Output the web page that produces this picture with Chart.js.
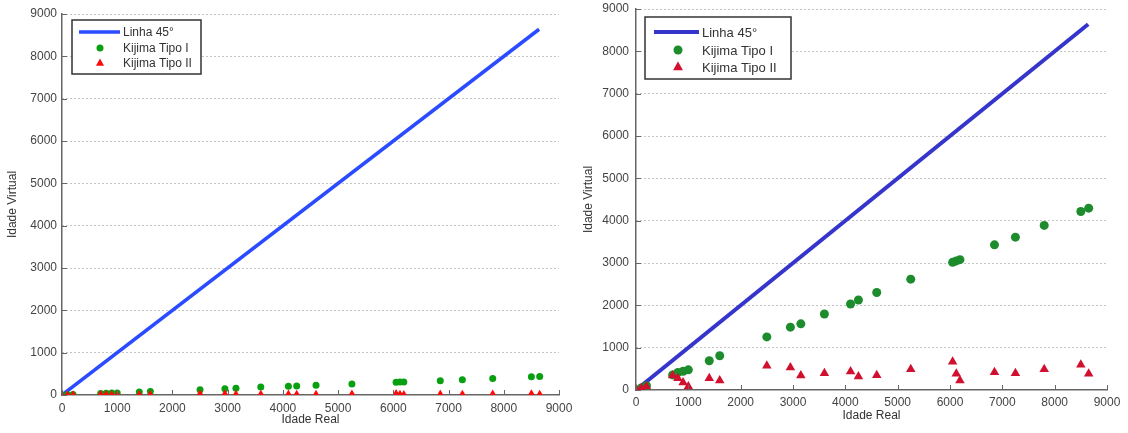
<!DOCTYPE html>
<html>
<head>
<meta charset="utf-8">
<script src="https://cdn.jsdelivr.net/npm/chart.js@4.4.1/dist/chart.umd.min.js"></script>
<style>
  body { margin: 0; background: #fff; width: 1128px; height: 433px; overflow: hidden; position: relative; }
  canvas { position: absolute; top: 0; }
  #esq { left: 0; }
  #dir { left: 580px; }
</style>
</head>
<body>
<canvas id="esq" width="580" height="433"></canvas>
<canvas id="dir" width="548" height="433"></canvas>
<script>
// idade real (eixo x), igual nos dois graficos
var idadeReal = [0, 100, 200, 700, 800, 900, 1000, 1400, 1600, 2500, 2950, 3150, 3600, 4100, 4250, 4600, 5250, 6050, 6120, 6190, 6850, 7250, 7800, 8500, 8650];

// grafico da esquerda
var tipoI_esq  = [0, 5, 10, 35, 40, 45, 50, 70, 80, 122, 148, 158, 187, 205, 213, 228, 262, 303, 306, 310, 334, 362, 392, 432, 435];
var tipoII_esq = [1, 2, 4, 17, 14, 9, 4, 14, 11, 29, 27, 17, 20, 22, 16, 17, 25, 33, 19, 11, 21, 20, 25, 30, 19];

// grafico da direita
var tipoI_dir  = [0, 50, 100, 357, 413, 444, 476, 690, 810, 1254, 1484, 1563, 1794, 2032, 2127, 2302, 2619, 3016, 3050, 3079, 3429, 3611, 3888, 4216, 4296];
var tipoII_dir = [16, 40, 80, 341, 278, 175, 80, 278, 222, 571, 532, 341, 397, 437, 317, 349, 492, 667, 381, 222, 420, 397, 492, 595, 381];

// linha 45 graus
var linhaX = [0, 8640];

var ticksEixo = [0, 1000, 2000, 3000, 4000, 5000, 6000, 7000, 8000, 9000];
var rotulos = ['Linha 45°', 'Kijima Tipo I', 'Kijima Tipo II'];

function pontos(xs, ys) {
  var out = [];
  for (var i = 0; i < xs.length; i++) out.push({x: xs[i], y: ys[i]});
  return out;
}

// ticks para dentro (estilo matlab)
var ticksDentro = {
  id: 'ticksDentro',
  afterDraw: function (chart) {
    var ctx = chart.ctx, xs = chart.scales.x, ys = chart.scales.y, a = chart.chartArea;
    ctx.save();
    ctx.strokeStyle = '#666';
    ctx.lineWidth = 1;
    ctx.beginPath();
    ticksEixo.forEach(function (v) {
      var px = Math.round(xs.getPixelForValue(v)) + 0.5;
      ctx.moveTo(px, a.bottom); ctx.lineTo(px, a.bottom - 5);
      var py = Math.round(ys.getPixelForValue(v)) + 0.5;
      ctx.moveTo(a.left, py); ctx.lineTo(a.left + 5, py);
    });
    ctx.stroke();
    ctx.restore();
  }
};

// legenda em caixa dentro do grafico
var legendaCaixa = {
  id: 'legendaCaixa',
  afterDraw: function (chart, args, o) {
    var ctx = chart.ctx;
    ctx.save();
    ctx.fillStyle = '#fff';
    ctx.fillRect(o.x, o.y, o.w, o.h);
    ctx.strokeStyle = '#333';
    ctx.lineWidth = 1.5;
    ctx.strokeRect(o.x, o.y, o.w, o.h);
    ctx.font = o.fonte + 'px "Liberation Sans", Arial, sans-serif';
    ctx.textBaseline = 'middle';
    ctx.fillStyle = '#333';
    chart.data.datasets.forEach(function (ds, i) {
      var y = o.linhas[i];
      if (i === 0) {
        ctx.strokeStyle = ds.borderColor;
        ctx.lineWidth = ds.borderWidth;
        ctx.beginPath(); ctx.moveTo(o.l0, y); ctx.lineTo(o.l1, y); ctx.stroke();
      } else {
        ctx.fillStyle = ds.pointBackgroundColor;
        ctx.beginPath();
        if (ds.pointStyle === 'circle') {
          ctx.arc(o.mx, y, ds.pointRadius, 0, Math.PI * 2);
        } else {
          var r = ds.pointRadius;
          ctx.moveTo(o.mx, y - r);
          ctx.lineTo(o.mx + r * 0.9, y + r * 0.6);
          ctx.lineTo(o.mx - r * 0.9, y + r * 0.6);
          ctx.closePath();
        }
        ctx.fill();
      }
      ctx.fillStyle = '#333';
      ctx.fillText(ds.label, o.tx, y + 1);
    });
    ctx.restore();
  }
};

function grafico(id, g) {
  var fonte = {family: '"Liberation Sans", Arial, sans-serif', size: g.fonte};
  new Chart(document.getElementById(id), {
    type: 'scatter',
    data: {
      datasets: [{
        type: 'line',
        label: rotulos[0],
        data: pontos(linhaX, linhaX),
        borderColor: g.azul,
        borderWidth: g.larguraLinha,
        pointRadius: 0,
        order: 3
      }, {
        label: rotulos[1],
        data: pontos(idadeReal, g.tipoI),
        pointStyle: 'circle',
        pointRadius: g.raio,
        pointBackgroundColor: g.verde,
        pointBorderWidth: 0,
        order: 2
      }, {
        label: rotulos[2],
        data: pontos(idadeReal, g.tipoII),
        pointStyle: 'triangle',
        pointRadius: g.raioTri,
        pointBackgroundColor: g.vermelho,
        pointBorderWidth: 0,
        order: 1
      }]
    },
    options: {
      responsive: false,
      animation: false,
      events: [],
      layout: {padding: {top: g.topo, right: 21, left: 0, bottom: 0}},
      plugins: {
        legend: {display: false},
        tooltip: {enabled: false},
        legendaCaixa: g.legenda
      },
      scales: {
        x: {
          type: 'linear', min: 0, max: 9000,
          afterBuildTicks: function (s) { s.ticks = ticksEixo.map(function (v) { return {value: v}; }); },
          afterFit: function (s) { s.height = g.alturaX; s.paddingLeft = 0; s.paddingRight = 0; },
          grid: {display: false, drawTicks: false},
          border: {color: '#666', width: 1.5},
          ticks: {color: '#444', font: fonte, padding: g.padX, maxRotation: 0, autoSkip: false,
                  callback: function (v) { return String(v); }},
          title: {display: true, text: 'Idade Real', color: '#333', font: fonte, padding: {top: 0, bottom: g.titX}}
        },
        y: {
          type: 'linear', min: 0, max: 9000,
          afterBuildTicks: function (s) { s.ticks = ticksEixo.map(function (v) { return {value: v}; }); },
          afterFit: function (s) { s.width = g.larguraY; s.paddingTop = 0; s.paddingBottom = 0; },
          grid: {
            drawTicks: false,
            color: function (c) { return c.tick && c.tick.value === 0 ? 'rgba(0,0,0,0)' : '#888'; },
            lineWidth: 1
          },
          border: {color: '#666', width: 1.5, dash: [1, 3]},
          ticks: {color: '#444', font: fonte, padding: g.padY, autoSkip: false,
                  callback: function (v) { return String(v); }},
          title: {display: true, text: 'Idade Virtual', color: '#333', font: fonte, padding: {top: g.titY, bottom: 0}}
        }
      }
    },
    plugins: [ticksDentro, legendaCaixa]
  });
}

grafico('esq', {
  tipoI: tipoI_esq, tipoII: tipoII_esq,
  azul: '#2a4bff', verde: '#08a010', vermelho: '#ff0a0a',
  larguraLinha: 3.5, raio: 3.5, raioTri: 4.5,
  fonte: 12, topo: 14, alturaX: 38, larguraY: 62,
  padX: 6, padY: 5, titX: 6, titY: 5,
  legenda: {x: 72, y: 20, w: 129, h: 54, l0: 79, l1: 120, mx: 100, tx: 123, linhas: [32, 48, 63], fonte: 12}
});

grafico('dir', {
  tipoI: tipoI_dir, tipoII: tipoII_dir,
  azul: '#3535cc', verde: '#1c8c2c', vermelho: '#d0102e',
  larguraLinha: 4, raio: 4.5, raioTri: 5.5,
  fonte: 12, topo: 9, alturaX: 43, larguraY: 56,
  padX: 5, padY: 7, titX: 10, titY: 1,
  legenda: {x: 65, y: 17, w: 146, h: 62, l0: 74, l1: 119, mx: 98, tx: 122, linhas: [32, 50, 67], fonte: 13}
});
</script>
</body>
</html>
